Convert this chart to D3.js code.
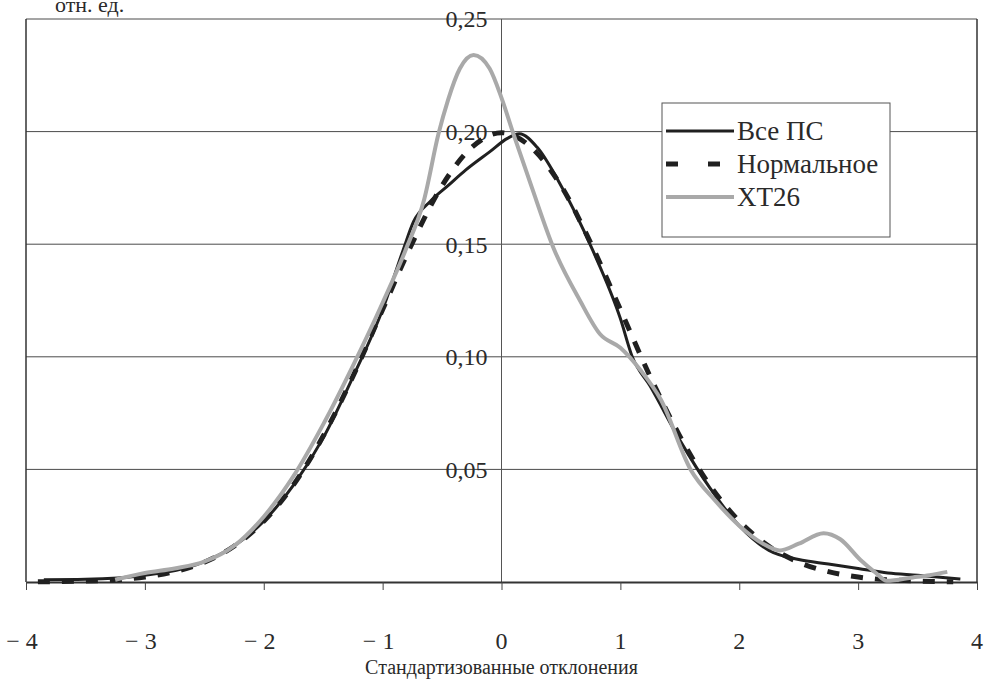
<!DOCTYPE html>
<html>
<head>
<meta charset="utf-8">
<script src="https://cdn.jsdelivr.net/npm/d3@7"></script>
<style>
  body { margin: 0; background: #fff; }
  svg text { font-family: "Liberation Serif", "DejaVu Serif", serif; fill: #2a2a2a; }
</style>
</head>
<body>
<svg id="chart-svg"></svg>
<script>
const width = 987
const height = 684
const margin = {top: 19, right: 10, bottom: 102, left: 26}

// x values and series
const allX = [-3.85, -3.5, -3.0, -2.5, -2.25, -2.0, -1.75, -1.5, -1.25, -1.0, -0.83, -0.74, -0.6, -0.45, -0.3, -0.1, 0.05, 0.15, 0.3, 0.48, 0.77, 1.0, 1.1, 1.25, 1.5, 1.75, 2.0, 2.25, 2.5, 2.75, 3.0, 3.25, 3.5, 3.86]
const allY = [0.001, 0.0012, 0.003, 0.009, 0.016, 0.027, 0.043, 0.064, 0.091, 0.121, 0.147, 0.160, 0.169, 0.176, 0.183, 0.191, 0.197, 0.199, 0.193, 0.178, 0.147, 0.117, 0.100, 0.087, 0.063, 0.042, 0.025, 0.014, 0.010, 0.008, 0.006, 0.004, 0.003, 0.0013]

const normX = [-3.9, -3.5, -3.0, -2.75, -2.5, -2.25, -2.0, -1.75, -1.5, -1.25, -1.0, -0.75, -0.5, -0.25, 0, 0.25, 0.5, 0.75, 1.0, 1.25, 1.5, 1.75, 2.0, 2.25, 2.5, 2.75, 3.0, 3.5, 3.8]
const normY = [0.0001, 0.0004, 0.0022, 0.0046, 0.0088, 0.0159, 0.027, 0.0431, 0.0648, 0.0913, 0.121, 0.1506, 0.176, 0.193, 0.1995, 0.193, 0.176, 0.1506, 0.121, 0.0913, 0.0648, 0.0431, 0.027, 0.0159, 0.0088, 0.0046, 0.0022, 0.0004, 0.0001]

const xtX = [-3.25, -3.0, -2.75, -2.5, -2.25, -2.0, -1.75, -1.5, -1.25, -1.0, -0.81, -0.65, -0.53, -0.45, -0.35, -0.235, -0.1, 0.0, 0.1, 0.25, 0.44, 0.66, 0.83, 1.0, 1.17, 1.34, 1.59, 1.8, 2.0, 2.2, 2.34, 2.5, 2.71, 2.85, 3.02, 3.15, 3.24, 3.46, 3.6, 3.75]
const xtY = [0.001, 0.004, 0.006, 0.009, 0.016, 0.029, 0.047, 0.070, 0.096, 0.124, 0.147, 0.170, 0.199, 0.214, 0.228, 0.234, 0.228, 0.215, 0.199, 0.176, 0.148, 0.125, 0.110, 0.104, 0.094, 0.081, 0.050, 0.036, 0.025, 0.017, 0.014, 0.017, 0.0217, 0.019, 0.0098, 0.004, 0.0005, 0.002, 0.003, 0.0045]

const xTicks = [-4, -3, -2, -1, 0, 1, 2, 3, 4]
const yTicks = [0.05, 0.10, 0.15, 0.20, 0.25]
const yTickLabels = ['0,05', '0,10', '0,15', '0,20', '0,25']
const seriesNames = ['Все ПС', 'Нормальное', 'ХТ26']

const svg = d3.select('svg#chart-svg').attr('width', width).attr('height', height)

const x = d3.scaleLinear().domain([-4, 4]).range([margin.left, width - margin.right])
const y = d3.scaleLinear().domain([0, 0.25]).range([height - margin.bottom, margin.top])

//horizontal gridlines
svg.append('g').selectAll('line').data(yTicks).enter().append('line')
  .attr('x1', x(-4)).attr('x2', x(4))
  .attr('y1', d => y(d)).attr('y2', d => y(d))
  .attr('stroke', '#4a4a4a').attr('stroke-width', 1)

//frame sides
svg.append('line').attr('x1', x(-4)).attr('x2', x(-4)).attr('y1', y(0)).attr('y2', y(0.25))
  .attr('stroke', '#333').attr('stroke-width', 1.5)
svg.append('line').attr('x1', x(4)).attr('x2', x(4)).attr('y1', y(0)).attr('y2', y(0.25))
  .attr('stroke', '#333').attr('stroke-width', 1.5)

//vertical axis at zero
svg.append('line').attr('x1', x(0)).attr('x2', x(0)).attr('y1', y(0)).attr('y2', y(0.25))
  .attr('stroke', '#555').attr('stroke-width', 1)

//x axis with ticks below
const xAxis = d3.axisBottom(x).tickValues(xTicks).tickSize(8).tickSizeOuter(0).tickFormat('')
const gx = svg.append('g').attr('transform', `translate(0, ${y(0)})`).call(xAxis)
gx.select('.domain').attr('stroke', '#333').attr('stroke-width', 2)
gx.selectAll('.tick line').attr('stroke', '#444').attr('stroke-width', 1)

svg.append('g').selectAll('text').data(xTicks).enter().append('text')
  .attr('x', d => x(d) + (d < 0 ? -4 : 0))
  .attr('y', 649)
  .attr('text-anchor', 'middle')
  .attr('font-size', 24)
  .text(d => d < 0 ? '\u2212 ' + Math.abs(d) : String(d))

//y tick labels next to the zero axis
svg.append('g').selectAll('text').data(yTicks).enter().append('text')
  .attr('x', x(0) - 14)
  .attr('y', d => y(d))
  .attr('dy', '0.35em')
  .attr('text-anchor', 'end')
  .attr('font-size', 24)
  .text((d, i) => yTickLabels[i])

svg.append('text').attr('x', x(0)).attr('y', 674).attr('text-anchor', 'middle')
  .attr('font-size', 20).text('Стандартизованные отклонения')

svg.append('text').attr('x', 55).attr('y', 12).attr('font-size', 22).text('отн. ед.')

//curves
const line = d3.line().x(d => x(d[0])).y(d => y(d[1])).curve(d3.curveMonotoneX)

svg.append('path').datum(d3.zip(allX, allY)).attr('d', line)
  .attr('fill', 'none').attr('stroke', '#202020').attr('stroke-width', 3)

svg.append('path').datum(d3.zip(normX, normY)).attr('d', line)
  .attr('fill', 'none').attr('stroke', '#202020').attr('stroke-width', 5)
  .attr('stroke-dasharray', '12,12')

svg.append('path').datum(d3.zip(xtX, xtY)).attr('d', line)
  .attr('fill', 'none').attr('stroke', '#a9a9a9').attr('stroke-width', 4)

//legend
const legend = svg.append('g').attr('transform', 'translate(662, 103)')
legend.append('rect').attr('width', 228).attr('height', 134)
  .attr('fill', '#fff').attr('stroke', '#555').attr('stroke-width', 1)

const legendStyles = [
  {stroke: '#202020', width: 3, dash: null},
  {stroke: '#202020', width: 5, dash: '12,30'},
  {stroke: '#a9a9a9', width: 4, dash: null}
]
const rowY = [28, 61, 94]

const rows = legend.selectAll('g.row').data(seriesNames).enter().append('g')
  .attr('class', 'row')
  .attr('transform', (d, i) => `translate(0, ${rowY[i]})`)

rows.append('line').attr('x1', 4).attr('x2', 72).attr('y1', 0).attr('y2', 0)
  .attr('stroke', (d, i) => legendStyles[i].stroke)
  .attr('stroke-width', (d, i) => legendStyles[i].width)
  .attr('stroke-dasharray', (d, i) => legendStyles[i].dash)

rows.append('text').attr('x', 75).attr('y', 0).attr('dy', '0.35em')
  .attr('font-size', 27)
  .text(d => d)
</script>
</body>
</html>
